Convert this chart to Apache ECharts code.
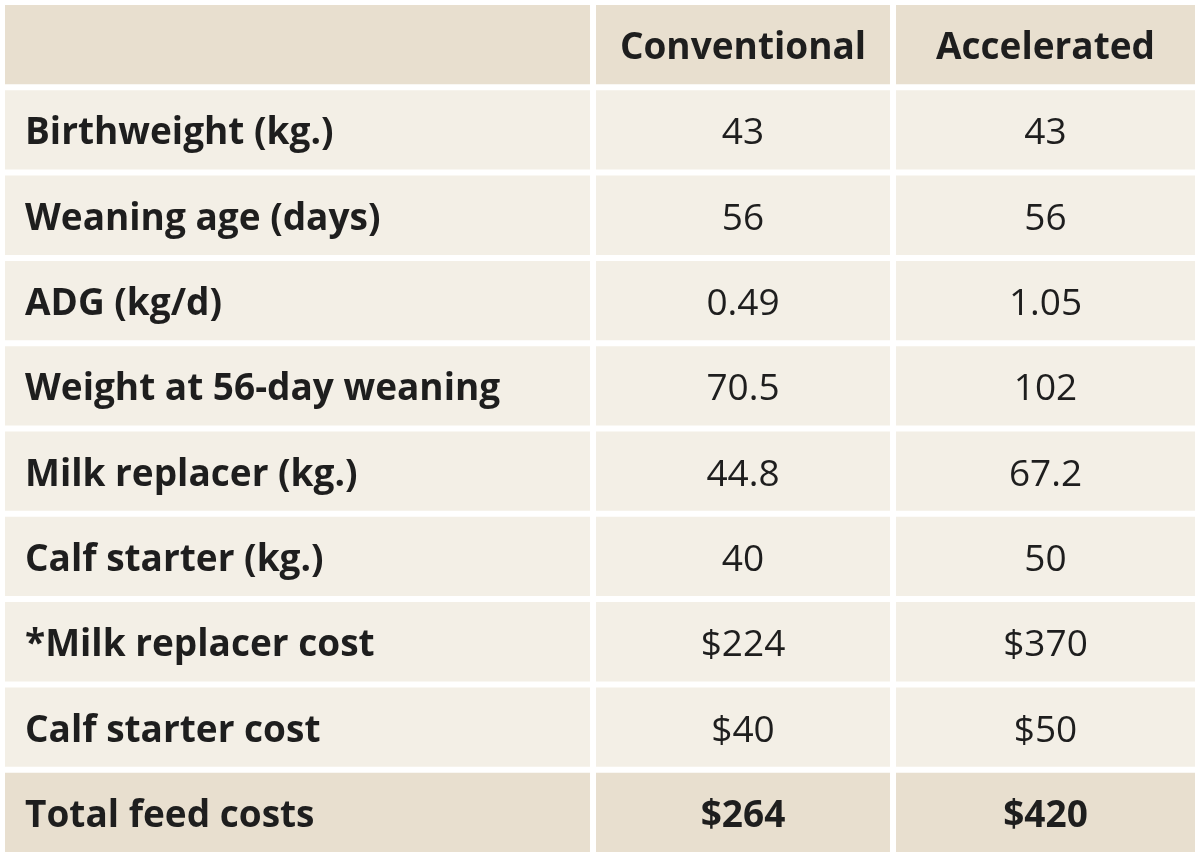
<!DOCTYPE html><html><head><meta charset="utf-8">
<script src="https://cdn.jsdelivr.net/npm/echarts@6/dist/echarts.min.js"></script>
<style>html,body{margin:0;padding:0;background:#fff}#c{width:1200px;height:857px}</style></head><body><div id="c"></div>
<script>
const headers = ["", "Conventional", "Accelerated"];
const rowLabels = ["Birthweight (kg.)","Weaning age (days)","ADG (kg/d)","Weight at 56-day weaning","Milk replacer (kg.)","Calf starter (kg.)","*Milk replacer cost","Calf starter cost","Total feed costs"];
const conventional = ["43","56","0.49","70.5","44.8","40","$224","$40","$264"];
const accelerated = ["43","56","1.05","102","67.2","50","$370","$50","$420"];

const colEdges = [2, 593, 893, 1198];
const rows = ["h"].concat(rowLabels.map((_, i) => "r" + i));
const data = [];
for (let c = 0; c < 3; c++) data.push([c, 0, headers[c], 'head']);
rowLabels.forEach((l, i) => {
  const kind = i === rowLabels.length - 1 ? 'total' : 'body';
  data.push([0, i + 1, l, kind]);
  data.push([1, i + 1, conventional[i], kind]);
  data.push([2, i + 1, accelerated[i], kind]);
});
const chart = echarts.init(document.getElementById('c'));
chart.setOption({
  animation: false,
  grid: {left: 0, right: 0, top: 2, bottom: 2},
  xAxis: {type: 'value', min: 0, max: 1200, show: false},
  yAxis: {type: 'category', data: rows, inverse: true, show: false},
  series: [{
    type: 'custom',
    data: data,
    renderItem: function (params, api) {
      const c = api.value(0), r = api.value(1);
      const d = data[params.dataIndex];
      const x0 = api.coord([colEdges[c], r])[0], x1 = api.coord([colEdges[c + 1], r])[0];
      const band = api.size([0, 1])[1];
      const cy = api.coord([0, r])[1];
      const y0 = cy - band / 2;
      const fill = d[3] === 'body' ? '#f3efe6' : '#e8dfcf';
      const bold = c === 0 || d[3] !== 'body';
      return {
        type: 'group', children: [
          {type: 'rect', shape: {x: x0 + 3, y: y0 + 3, width: x1 - x0 - 6, height: band - 6}, style: {fill: fill}},
          {type: 'text', style: {
            text: d[2], x: c === 0 ? x0 + 23 : (x0 + x1) / 2, y: cy + 4,
            align: c === 0 ? 'left' : 'center', verticalAlign: 'middle',
            fill: '#1e1e1e', font: (bold ? 'bold ' : '') + '37px "Open Sans", sans-serif'
          }}
        ]
      };
    }
  }]
});
</script></body></html>
